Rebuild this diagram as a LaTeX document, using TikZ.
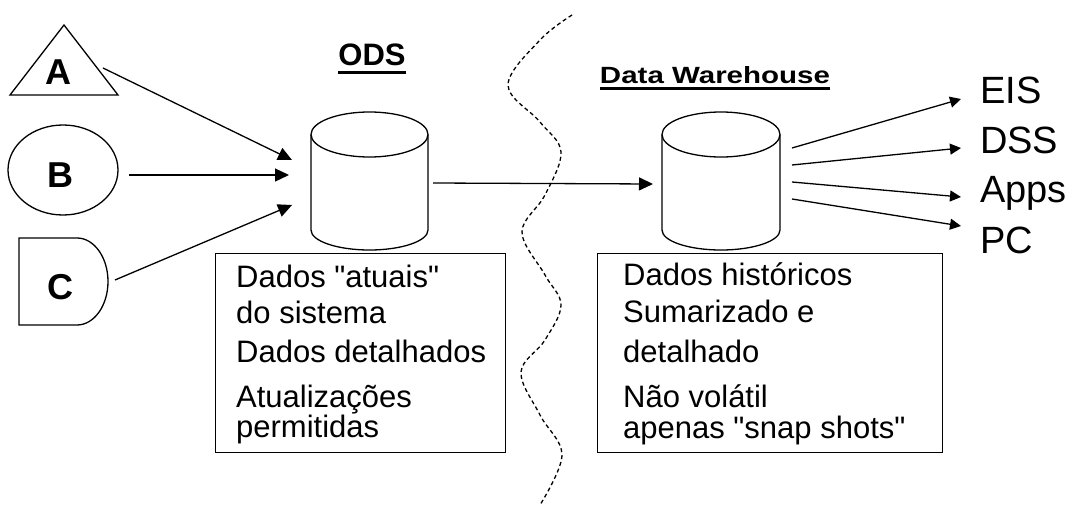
\documentclass[tikz,border=0pt]{standalone}
\usepackage{fontspec}
\setmainfont{Liberation Sans}[Ligatures=TeXOff]
\usetikzlibrary{arrows.meta}
\begin{document}
\begin{tikzpicture}[x=1pt,y=-1pt,
  shapeline/.style={draw=black, line width=1.3pt},
  conn/.style={draw=black, line width=1.3pt, -{Triangle[length=14pt,width=13pt]}},
  connsmall/.style={draw=black, line width=1.3pt, -{Triangle[length=11pt,width=11pt]}},
  boxtxt/.style={anchor=base west, inner sep=0pt, font=\fontsize{31}{31}\selectfont},
  srclbl/.style={inner sep=0pt, font=\fontsize{36}{36}\selectfont\bfseries},
  outlbl/.style={anchor=base west, inner sep=0pt, font=\fontsize{38}{38}\selectfont},
  boxframe/.style={draw=black, line width=1.4pt, anchor=north west, inner sep=0pt},
  sep/.style={draw=black, line width=1.3pt, dash pattern=on 4pt off 3pt}
]
\useasboundingbox (0,0) rectangle (1072,506);

% ---- sources ----
\draw[shapeline] (64,25) -- (118,95) -- (10,95) -- cycle;
\node[srclbl] (A) at (58,72) {A};
\draw[shapeline] (63,170) ellipse [x radius=55, y radius=45];
\node[srclbl] (B) at (60,175) {B};
\draw[shapeline] (77,238) -- (19,238) -- (19,325) -- (77,325)
  arc[start angle=90, end angle=-90, x radius=31, y radius=43.5] -- cycle;
\node[srclbl] (C) at (60,287) {C};

\coordinate (Aout) at (103,68);
\coordinate (Bout) at (129,175);
\coordinate (Cout) at (115,280);
\coordinate (odsA) at (292,160);
\coordinate (odsB) at (289,175);
\coordinate (odsC) at (292,205);
\draw[conn] (Aout) -- (odsA);
\draw[conn] (Bout) -- (odsB);
\draw[conn] (Cout) -- (odsC);

% ---- ODS ----
\node[inner sep=0pt, minimum width=117pt, minimum height=138pt] (ods) at (369.5,181) {};
\draw[shapeline] (311,134.5) -- (311,230) arc[start angle=180, end angle=0, x radius=58.5, y radius=20] -- (428,134.5);
\draw[shapeline] (369.5,134.5) ellipse [x radius=58.5, y radius=22.5];
\node[anchor=base, inner sep=0pt, font=\fontsize{31}{31}\selectfont\bfseries] (odsl) at (372,65) {ODS};
\draw[line width=3pt] ([yshift=-7pt]odsl.base west) -- ([yshift=-7pt]odsl.base east);

\node[boxframe, minimum width=290pt, minimum height=199pt] (odsbox) at (215,253) {};
\node[boxtxt] (o1) at (236,287) {Dados "atuais"};
\node[boxtxt] (o2) at (236,323) {do sistema};
\node[boxtxt] (o3) at (236,362) {Dados detalhados};
\node[boxtxt] (o4) at (236,407) {Atualizações};
\node[boxtxt] (o5) at (236,437) {permitidas};

% ---- separator ----
\draw[sep] plot[smooth, tension=0.6] coordinates {(572,15) (540,40) (508,85) (540,122) (561,152) (545,195) (522,232) (545,275) (561,305) (545,340) (521,372) (540,415) (562,455) (540,505)};

% ---- ODS -> DW ----
\coordinate (odsout) at (433,183);
\coordinate (dwin) at (653,184);
\draw[conn] (odsout) -- (dwin);

% ---- Data Warehouse ----
\node[inner sep=0pt, minimum width=118pt, minimum height=138pt] (dw) at (721,181) {};
\draw[shapeline] (662,134.5) -- (662,230) arc[start angle=180, end angle=0, x radius=59, y radius=20] -- (780,134.5);
\draw[shapeline] (721,134.5) ellipse [x radius=59, y radius=22.5];
\node[anchor=base, inner sep=0pt] (dwl) at (715,83) {\resizebox{230pt}{17pt}{\bfseries Data Warehouse}};
\draw[line width=3pt] ([yshift=-5pt]dwl.base west) -- ([yshift=-5pt]dwl.base east);

\node[boxframe, minimum width=345pt, minimum height=199pt] (dwbox) at (597,253) {};
\node[boxtxt] (d1) at (623,285) {Dados históricos};
\node[boxtxt] (d2) at (623,322) {Sumarizado e};
\node[boxtxt] (d3) at (623,362) {detalhado};
\node[boxtxt] (d4) at (623,407) {Não volátil};
\node[boxtxt] (d5) at (623,438) {apenas "snap shots"};

% ---- outputs ----
\node[outlbl] (eis) at (980,103) {EIS};
\node[outlbl] (dss) at (980,153) {DSS};
\node[outlbl] (apps) at (980,202) {Apps};
\node[outlbl] (pc) at (980,253) {PC};
\coordinate (w1) at (792,148);
\coordinate (w2) at (792,165);
\coordinate (w3) at (792,182);
\coordinate (w4) at (792,199);
\coordinate (e1) at (961,99);
\coordinate (e2) at (961,148);
\coordinate (e3) at (961,197);
\coordinate (e4) at (961,226);
\draw[connsmall] (w1) -- (e1);
\draw[connsmall] (w2) -- (e2);
\draw[connsmall] (w3) -- (e3);
\draw[connsmall] (w4) -- (e4);
\end{tikzpicture}
\end{document}
